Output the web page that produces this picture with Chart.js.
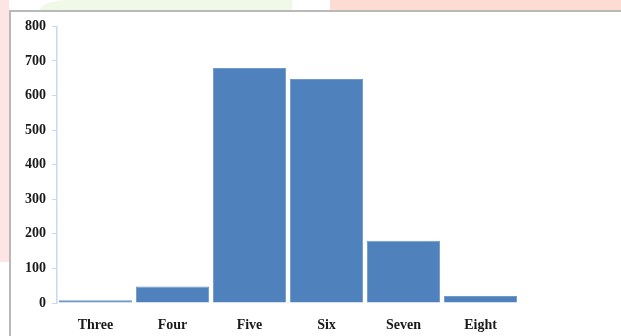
<!DOCTYPE html>
<html>
<head>
<meta charset="utf-8">
<script src="https://cdn.jsdelivr.net/npm/chart.js@4.4.0/dist/chart.umd.min.js"></script>
<style>
  html, body { margin: 0; padding: 0; background: #ffffff; }
  body { width: 621px; height: 336px; position: relative; overflow: hidden; }
  .bg { position: absolute; }
  #box { position: absolute; left: 9px; top: 10px; width: 620px; height: 330px;
         border-left: 2px solid #b9b9b9; border-top: 2px solid #b9b9b9; background: #fff; }
  #wrap { position: absolute; left: 11px; top: 12px; width: 610px; height: 324px; }
</style>
</head>
<body>
<div class="bg" style="left:0;top:0;width:9px;height:262px;background:#fde5e5;"></div>
<div class="bg" style="left:40px;top:0;width:252px;height:10px;background:#f0f9e8;border-top-left-radius:30px 10px;"></div>
<div class="bg" style="left:330px;top:0;width:291px;height:10px;background:#fddcd4;"></div>
<div id="box"></div>
<div id="wrap"><canvas id="c" width="610" height="324"></canvas></div>
<script>
const categories = ["Three", "Four", "Five", "Six", "Seven", "Eight"];
const values = [8, 48, 680, 648, 180, 20];
const yTicks = [0, 100, 200, 300, 400, 500, 600, 700, 800];

const yFont = { family: "'Liberation Serif', 'Times New Roman', serif", size: 14, weight: "bold" };
const xFont = { family: "'Liberation Serif', 'Times New Roman', serif", size: 14, weight: "bold" };

new Chart(document.getElementById("c"), {
  type: "bar",
  data: {
    labels: categories,
    datasets: [{
      data: values,
      backgroundColor: "#4f81bd",
      borderColor: "#7099cc",
      borderWidth: 1,
      barPercentage: 0.95,
      categoryPercentage: 1.0
    }]
  },
  options: {
    responsive: false,
    animation: false,
    layout: { padding: { top: 12, right: 102, left: 0, bottom: 0 } },
    plugins: { legend: { display: false }, tooltip: { enabled: false } },
    scales: {
      x: {
        grid: { display: false },
        border: { display: false },
        ticks: { color: "#1a1a1a", font: xFont, padding: 6, maxRotation: 0 },
        afterFit: (s) => { s.height = 33; }
      },
      y: {
        min: 0,
        max: 800,
        afterBuildTicks: (s) => { s.ticks = yTicks.map(v => ({ value: v })); },
        grid: { drawOnChartArea: false, drawTicks: true, tickLength: 5, color: "#c6d9f1" },
        border: { display: true, color: "#c6d9f1", width: 1.5 },
        ticks: { color: "#1a1a1a", font: yFont, padding: 6 },
        afterFit: (s) => { s.width = 46; }
      }
    }
  }
});
</script>
</body>
</html>
